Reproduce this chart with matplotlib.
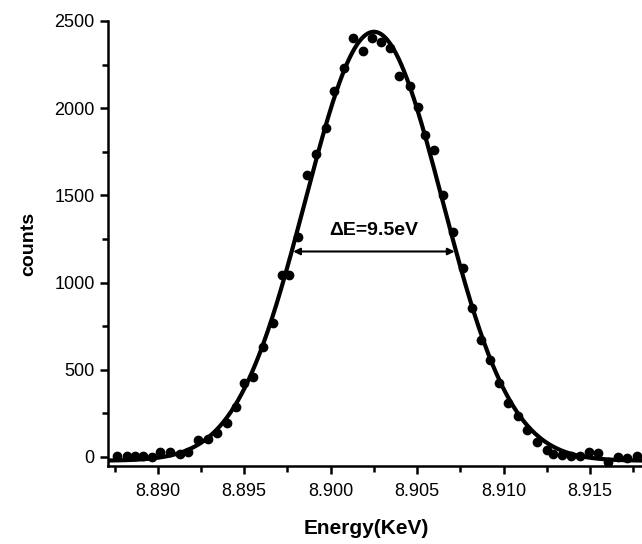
import numpy as np
import matplotlib
matplotlib.use("Agg")
import matplotlib.pyplot as plt

plt.rcParams['font.family'] = ['Liberation Sans', 'DejaVu Sans']

# measured points (energy in keV, counts)
energy = [8.88763, 8.88821, 8.88867, 8.88913, 8.88965, 8.89012, 8.89069, 8.89127,
          8.89174, 8.89231, 8.89289, 8.89341, 8.89399, 8.89451, 8.89498, 8.89550,
          8.89608, 8.89666, 8.89718, 8.89758, 8.89810, 8.89862, 8.89914, 8.89972,
          8.90019, 8.90076, 8.90128, 8.90186, 8.90238, 8.90291, 8.90343, 8.90395,
          8.90458, 8.90505, 8.90545, 8.90597, 8.90649, 8.90707, 8.90765, 8.90817,
          8.90869, 8.90921, 8.90973, 8.91025, 8.91083, 8.91135, 8.91193, 8.91251,
          8.91286, 8.91338, 8.91390, 8.91442, 8.91494, 8.91546, 8.91604, 8.91662,
          8.91714, 8.91772]
counts = [6, 5, 8, 6, 0, 30, 28, 17,
          28, 95, 105, 138, 195, 287, 424, 459,
          628, 768, 1043, 1043, 1261, 1617, 1740, 1884,
          2098, 2230, 2400, 2330, 2400, 2377, 2345, 2187,
          2127, 2007, 1846, 1760, 1502, 1290, 1086, 854,
          668, 558, 424, 310, 232, 155, 86, 40,
          17, 11, 6, 3, 26, 20, -30, -3,
          -5, 3]

x_ticks = [8.890, 8.895, 8.900, 8.905, 8.910, 8.915]
y_ticks = [0, 500, 1000, 1500, 2000, 2500]


def gauss(x, p):
    amp, mu, sig, base = p
    return base + amp * np.exp(-(x - mu) ** 2 / (2 * sig ** 2))


def gauss_fit(x, y):
    # start from a log-parabola, then least squares (Gauss-Newton)
    m = y > 300
    xc = x[m].mean()
    a, b, c0 = np.polyfit(x[m] - xc, np.log(y[m]), 2, w=y[m])
    p = np.array([np.exp(c0 - b ** 2 / (4 * a)), xc - b / (2 * a),
                  np.sqrt(-1 / (2 * a)), 0.0])
    for _ in range(50):
        amp, mu, sig, base = p
        e = np.exp(-(x - mu) ** 2 / (2 * sig ** 2))
        J = np.column_stack([e,
                             amp * e * (x - mu) / sig ** 2,
                             amp * e * (x - mu) ** 2 / sig ** 3,
                             np.ones_like(x)])
        r = y - gauss(x, p)
        dp = np.linalg.lstsq(J, r, rcond=None)[0]
        p = p + dp
        if np.all(np.abs(dp) < 1e-12 + 1e-9 * np.abs(p)):
            break
    return p


def main():
    xs = np.array(energy)
    ys = np.array(counts, dtype=float)
    p = gauss_fit(xs, ys)
    amp, mu, sig, base = p

    fig = plt.figure(figsize=(6.42, 5.44), dpi=100)
    ax = fig.add_axes([0.168, 0.1434, 0.832, 0.818])

    xlim = (8.88711, 8.91801)
    xf = np.linspace(xlim[0], xlim[1], 600)
    ax.plot(xf, gauss(xf, p), color="black", lw=3)
    ax.plot(xs, ys, "o", color="black", ms=6)

    hw = sig * np.sqrt(2 * np.log(2))
    yh = base + amp / 2 - 30
    ax.annotate("", xy=(mu - hw, yh), xytext=(mu + hw, yh),
                arrowprops=dict(arrowstyle="<|-|>", lw=1.5, color="black",
                                shrinkA=0, shrinkB=0, mutation_scale=10))
    ax.annotate("\u0394E=9.5eV", xy=(mu, yh), xytext=(0, 9),
                textcoords="offset points", ha="center", va="bottom",
                fontsize=14, fontweight="bold")

    ax.set_xlim(*xlim)
    ax.set_ylim(-52, 2500)
    ax.set_xticks(x_ticks)
    ax.set_xticklabels([f"{v:.3f}" for v in x_ticks])
    ax.set_yticks(y_ticks)
    ax.set_xticks(np.arange(8.8875, 8.918, 0.0025), minor=True)
    ax.set_yticks(np.arange(250, 2500, 500), minor=True)
    ax.tick_params(which="major", length=6, width=1.8, labelsize=13, direction="out")
    ax.tick_params(axis="x", which="major", pad=6)
    ax.tick_params(which="minor", length=4, width=1.8, direction="out")

    for s in ["top", "right"]:
        ax.spines[s].set_visible(False)
    for s in ["left", "bottom"]:
        ax.spines[s].set_linewidth(1.8)

    ax.set_xlabel("Energy(KeV)", fontsize=15, fontweight="bold")
    ax.set_ylabel("counts", fontsize=14, fontweight="bold", labelpad=12)
    ax.xaxis.set_label_coords(0.483, -0.12)

    fig.savefig("out.png", dpi=100)


if __name__ == "__main__":
    main()
